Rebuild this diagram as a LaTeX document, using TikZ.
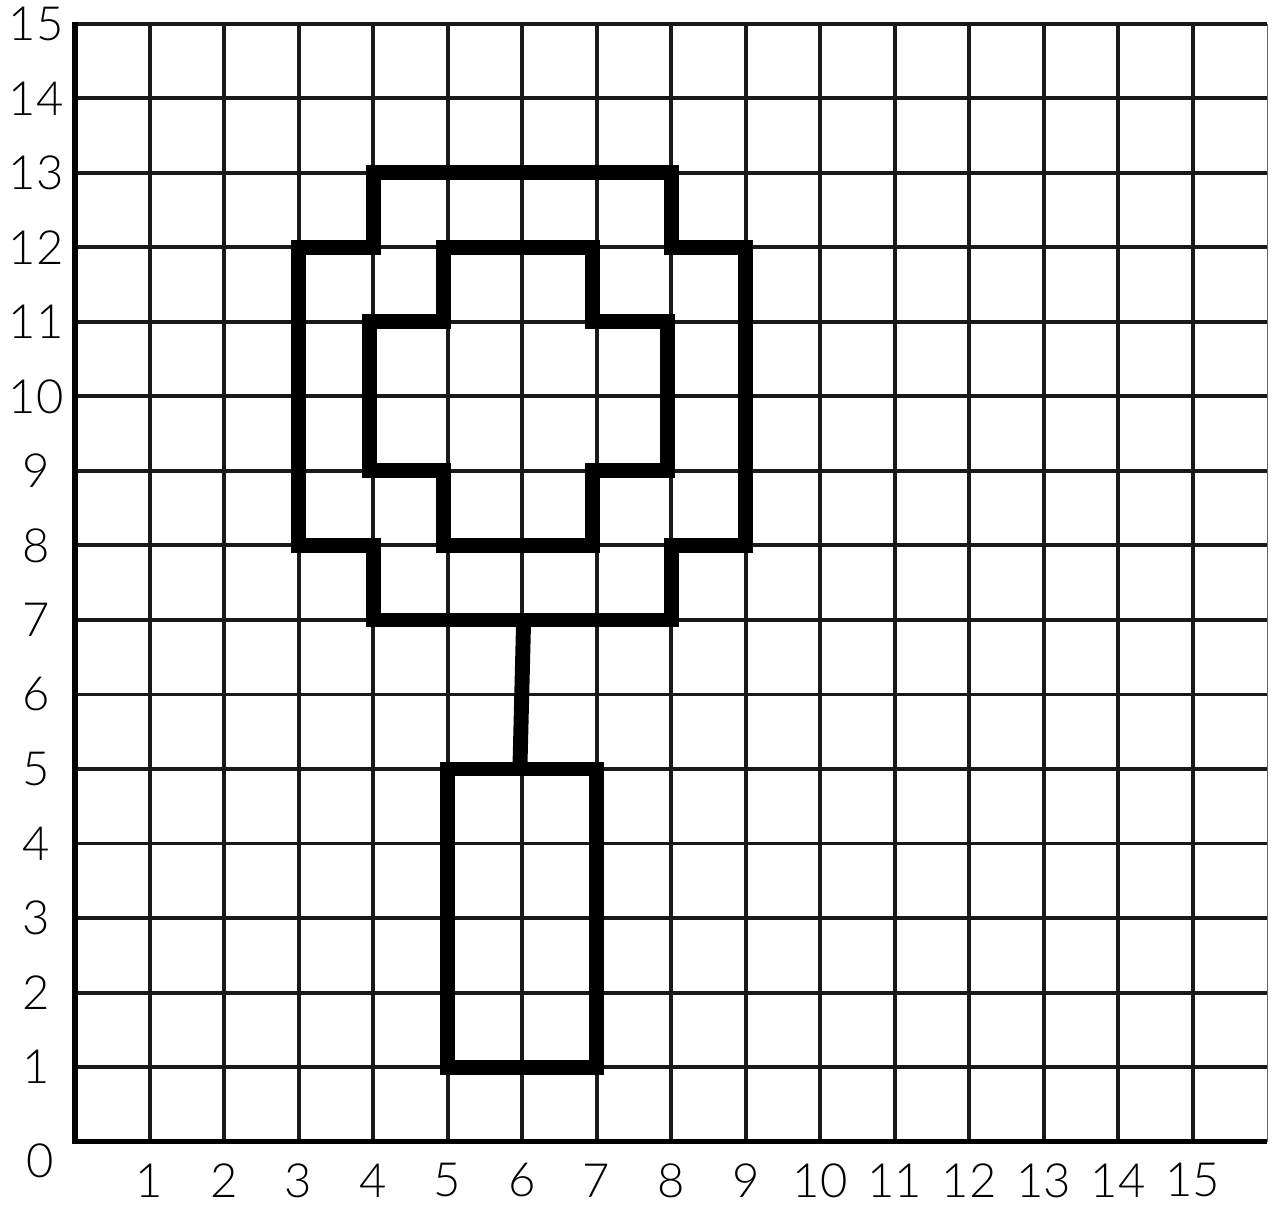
\documentclass[tikz,border=0pt]{standalone}
\usepackage{fontspec}
\newfontfamily\lbl{Lato Light}
\begin{document}
\begin{tikzpicture}[x=1cm,y=1cm,
  gridline/.style={line width=1.5pt,black!90},
  axisline/.style={line width=2pt,black},
  thickpath/.style={line width=5.7pt,black,line join=miter},
  lab/.style={font=\lbl\fontsize{18}{20}\selectfont,inner sep=0pt}]
\useasboundingbox (-1.007,-0.846) rectangle (16.09,15.32);
% grid
\foreach \i in {1,...,15} \draw[gridline] (\i,0) -- (\i,15);
\foreach \j in {1,...,15} \draw[gridline] (0,\j) -- (16,\j);
\draw[line width=0.5pt,black!60] (16,0) -- (16,15);
\draw[axisline] (0,15.02) -- (0,0) -- (16,0);
% labels
\foreach \i in {1,...,15} \node[lab] (x\i) at (\i,-0.52) {\i};
\foreach \j in {1,...,15} \node[lab] (y\j) at (-0.52,\j) {\j};
\node[lab] (o) at (-0.47,-0.26) {0};
% outer flower
\draw[thickpath] (3,12) -- (4,12) -- (4,13) -- (8,13) -- (8,12) -- (9,12) -- (9,8) -- (8,8) -- (8,7) -- (4,7) -- (4,8) -- (3,8) -- cycle;
% inner flower
\begin{scope}[xshift=-0.05cm]
\draw[thickpath] (5,12) -- (7,12) -- (7,11) -- (8,11) -- (8,9) -- (7,9) -- (7,8) -- (5,8) -- (5,9) -- (4,9) -- (4,11) -- (5,11) -- cycle;
\end{scope}
% stem
\coordinate (stemtop) at (6.02,7);
\coordinate (stembot) at (5.97,5);
\draw[thickpath] (stemtop) -- (stembot);
% pot
\draw[thickpath] (5,5) -- (7,5) -- (7,1) -- (5,1) -- cycle;
\end{tikzpicture}
\end{document}
